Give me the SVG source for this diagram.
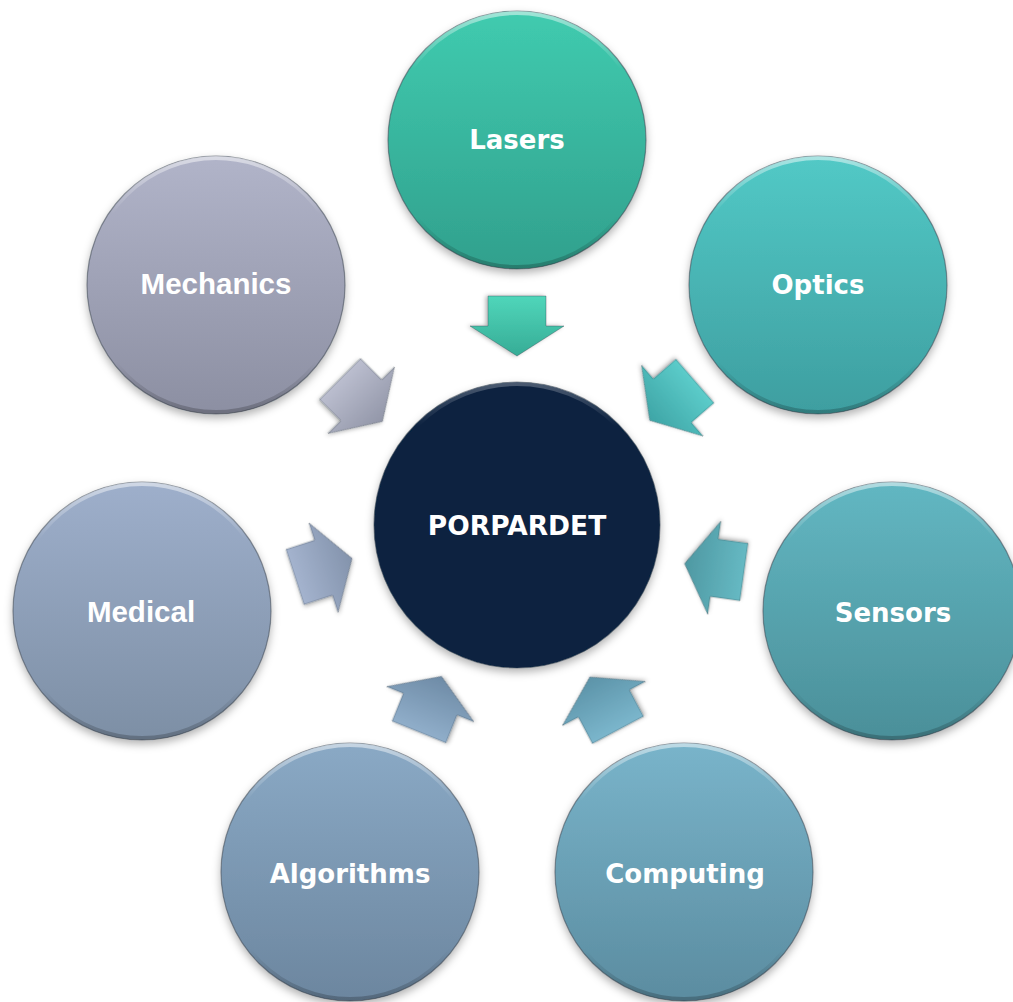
<svg xmlns="http://www.w3.org/2000/svg" width="1013" height="1002" viewBox="0 0 1013 1002">
<defs>
<style>
.lbl{font-family:"DejaVu Sans",Verdana,sans-serif;font-weight:bold;font-size:26px;fill:#FFFFFF;text-anchor:middle}
.lbl2{font-family:"Liberation Sans",Arial,sans-serif;font-weight:bold;font-size:29.5px;fill:#FFFFFF;text-anchor:middle}
.edge{stroke:#3c4650;stroke-opacity:0.55;stroke-width:1.2}
.rim{fill:none;stroke:url(#rim);stroke-width:4}
.arr{stroke:#2e3a44;stroke-opacity:0.35;stroke-width:1;filter:url(#ash)}
</style>
<linearGradient id="gLas" x1="0" y1="0" x2="0" y2="1"><stop offset="0" stop-color="#40CBAF"/><stop offset="1" stop-color="#31A08D"/></linearGradient>
<linearGradient id="gOpt" x1="0" y1="0" x2="0" y2="1"><stop offset="0" stop-color="#52C9C6"/><stop offset="1" stop-color="#3E9EA0"/></linearGradient>
<linearGradient id="gSen" x1="0" y1="0" x2="0" y2="1"><stop offset="0" stop-color="#62B7C2"/><stop offset="1" stop-color="#4B8F99"/></linearGradient>
<linearGradient id="gCom" x1="0" y1="0" x2="0" y2="1"><stop offset="0" stop-color="#79B4CA"/><stop offset="1" stop-color="#5B8CA0"/></linearGradient>
<linearGradient id="gAlg" x1="0" y1="0" x2="0" y2="1"><stop offset="0" stop-color="#8AA9C5"/><stop offset="1" stop-color="#6C869F"/></linearGradient>
<linearGradient id="gMed" x1="0" y1="0" x2="0" y2="1"><stop offset="0" stop-color="#9EAFCB"/><stop offset="1" stop-color="#7D8FA5"/></linearGradient>
<linearGradient id="gMec" x1="0" y1="0" x2="0" y2="1"><stop offset="0" stop-color="#B1B4C9"/><stop offset="1" stop-color="#8C8FA2"/></linearGradient>
<linearGradient id="aLas" x1="0" y1="0" x2="1" y2="0"><stop offset="0" stop-color="#50D6BA"/><stop offset="1" stop-color="#36AC96"/></linearGradient>
<linearGradient id="aOpt" x1="0" y1="0" x2="1" y2="0"><stop offset="0" stop-color="#5CCCCA"/><stop offset="1" stop-color="#3EA5A6"/></linearGradient>
<linearGradient id="aSen" x1="0" y1="0" x2="1" y2="0"><stop offset="0" stop-color="#66B9C3"/><stop offset="1" stop-color="#4E98A2"/></linearGradient>
<linearGradient id="aCom" x1="0" y1="0" x2="1" y2="0"><stop offset="0" stop-color="#7BB6CC"/><stop offset="1" stop-color="#5C93A8"/></linearGradient>
<linearGradient id="aAlg" x1="0" y1="0" x2="1" y2="0"><stop offset="0" stop-color="#90AECA"/><stop offset="1" stop-color="#6E8BA6"/></linearGradient>
<linearGradient id="aMed" x1="0" y1="0" x2="1" y2="0"><stop offset="0" stop-color="#A4B3CE"/><stop offset="1" stop-color="#8393AC"/></linearGradient>
<linearGradient id="aMec" x1="0" y1="0" x2="1" y2="0"><stop offset="0" stop-color="#BBBECF"/><stop offset="1" stop-color="#9296A8"/></linearGradient>
<linearGradient id="rim" x1="0" y1="0" x2="0" y2="1"><stop offset="0" stop-color="#FFFFFF" stop-opacity="0.5"/><stop offset="0.22" stop-color="#FFFFFF" stop-opacity="0"/><stop offset="0.8" stop-color="#000000" stop-opacity="0"/><stop offset="1" stop-color="#000000" stop-opacity="0.22"/></linearGradient>
<linearGradient id="rimC" x1="0" y1="0" x2="0" y2="1"><stop offset="0" stop-color="#FFFFFF" stop-opacity="0.25"/><stop offset="0.15" stop-color="#FFFFFF" stop-opacity="0"/></linearGradient>
<filter id="sh" x="-20%" y="-20%" width="140%" height="150%"><feDropShadow dx="0" dy="4" stdDeviation="4" flood-color="#000" flood-opacity="0.3"/></filter>
<filter id="ash" x="-30%" y="-30%" width="160%" height="160%"><feDropShadow dx="0" dy="2" stdDeviation="2" flood-color="#000" flood-opacity="0.3"/></filter>
<path id="arrow" d="M0,-29 L30,-29 L30,-47 L60,0 L30,47 L30,29 L0,29 Z"/>
</defs>
<rect width="1013" height="1002" fill="#FFFFFF"/>
<g id="connectors">
<use href="#arrow" class="arr" fill="url(#aLas)" transform="translate(517,296) rotate(90)"/>
<use href="#arrow" class="arr" fill="url(#aOpt)" transform="translate(695,381) rotate(139)"/>
<use href="#arrow" class="arr" fill="url(#aSen)" transform="translate(744,572) rotate(188)"/>
<use href="#arrow" class="arr" fill="url(#aCom)" transform="translate(618,730) rotate(242)"/>
<use href="#arrow" class="arr" fill="url(#aAlg)" transform="translate(419,732) rotate(292)"/>
<use href="#arrow" class="arr" fill="url(#aMed)" transform="translate(295,577) rotate(342)"/>
<use href="#arrow" class="arr" fill="url(#aMec)" transform="translate(340,379) rotate(45)"/>
</g>
<g id="node-center">
<circle cx="517" cy="525" r="143" fill="#072241" class="edge" filter="url(#sh)"/>
<circle cx="517" cy="525" r="141" fill="none" stroke="url(#rimC)" stroke-width="4"/>
<text x="517" y="535" class="lbl" style="font-size:26.5px">PORPARDET</text>
</g>
<g id="node-lasers">
<circle cx="517" cy="140" r="129" fill="url(#gLas)" class="edge" filter="url(#sh)"/>
<circle cx="517" cy="140" r="127" class="rim"/>
<text x="517" y="148.5" class="lbl">Lasers</text>
</g>
<g id="node-optics">
<circle cx="818" cy="285" r="129" fill="url(#gOpt)" class="edge" filter="url(#sh)"/>
<circle cx="818" cy="285" r="127" class="rim"/>
<text x="818" y="294" class="lbl">Optics</text>
</g>
<g id="node-sensors">
<circle cx="892" cy="611" r="129" fill="url(#gSen)" class="edge" filter="url(#sh)"/>
<circle cx="892" cy="611" r="127" class="rim"/>
<text x="893" y="621.5" class="lbl">Sensors</text>
</g>
<g id="node-computing">
<circle cx="684" cy="872" r="129" fill="url(#gCom)" class="edge" filter="url(#sh)"/>
<circle cx="684" cy="872" r="127" class="rim"/>
<text x="685" y="883" class="lbl">Computing</text>
</g>
<g id="node-algorithms">
<circle cx="350" cy="872" r="129" fill="url(#gAlg)" class="edge" filter="url(#sh)"/>
<circle cx="350" cy="872" r="127" class="rim"/>
<text x="350" y="883" class="lbl">Algorithms</text>
</g>
<g id="node-medical">
<circle cx="142" cy="611" r="129" fill="url(#gMed)" class="edge" filter="url(#sh)"/>
<circle cx="142" cy="611" r="127" class="rim"/>
<text x="141" y="622" class="lbl2">Medical</text>
</g>
<g id="node-mechanics">
<circle cx="216" cy="285" r="129" fill="url(#gMec)" class="edge" filter="url(#sh)"/>
<circle cx="216" cy="285" r="127" class="rim"/>
<text x="216" y="294" class="lbl2">Mechanics</text>
</g>
</svg>
